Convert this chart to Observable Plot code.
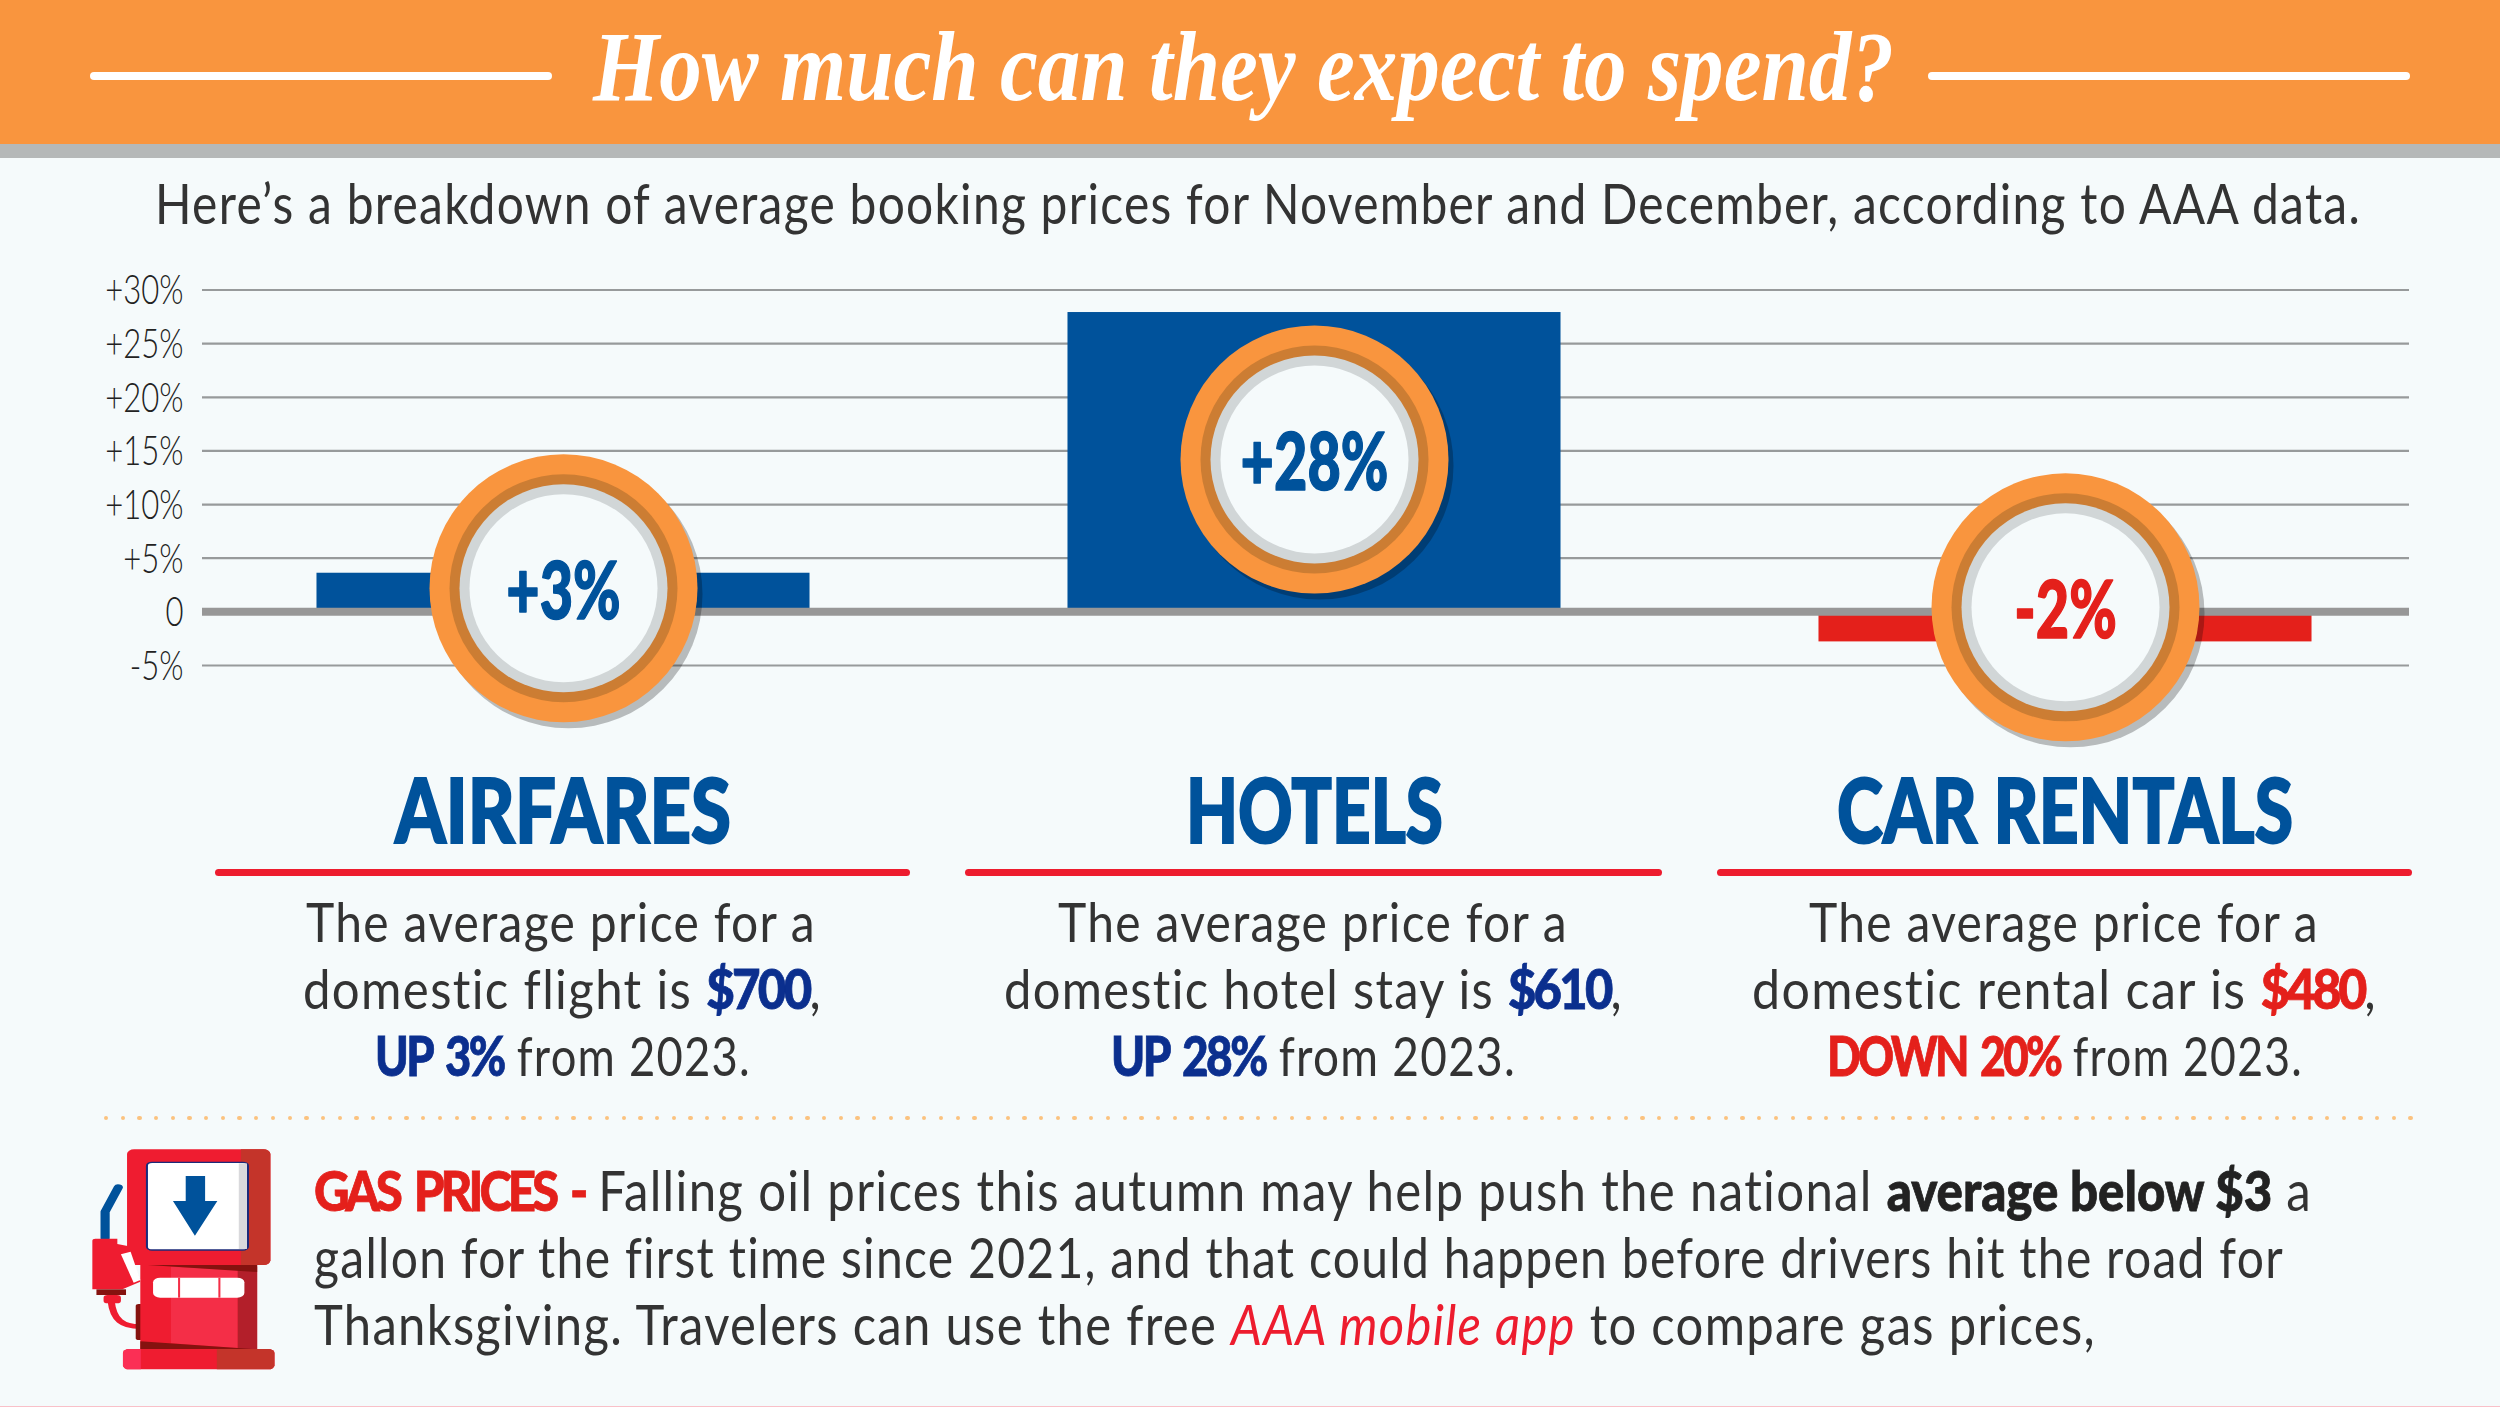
<!DOCTYPE html>
<html><head><meta charset="utf-8">
<script src="https://cdn.jsdelivr.net/npm/d3@7"></script>
<script src="https://cdn.jsdelivr.net/npm/@observablehq/plot@0.6"></script>
<style>
html,body{margin:0;padding:0;background:#F5FAFB;}
#page{position:relative;width:2500px;height:1407px;overflow:hidden;background:#F5FAFB;font-family:Lato,sans-serif;color:#333;}
.abs{position:absolute;}
.ln{position:absolute;white-space:nowrap;transform-origin:0 0;line-height:1.2;}
.b{letter-spacing:1.5px}
.n{color:#0B2F8E;font-weight:900;letter-spacing:-3px;word-spacing:7px;-webkit-text-stroke:.8px #0B2F8E}
.r{color:#E4201B;font-weight:900;letter-spacing:-3.5px;word-spacing:7px;-webkit-text-stroke:.8px #E4201B}
.k{color:#222;font-weight:900;letter-spacing:0;-webkit-text-stroke:.8px #222}
.i{color:#ED1C2E;font-style:italic}
#chart{position:absolute;left:0;top:250px;}
#chart svg{overflow:visible;background:transparent;}
</style></head><body><div id="page"></div>
<script>
const categories=["AIRFARES","HOTELS","CAR RENTALS"];
const barValues=[3.6,27.9,-2.8];
const badgeLabels=["+3%","+28%","-2%"];
const badgeLevels=[2.2,14.2,0.42];
const barColors=["#00529B","#00529B","#E4201B"];
const labelColors=["#00529B","#00529B","#E4201B"];
const yTicks=[30,25,20,15,10,5,-5];
const yTickLabels=["+30%","+25%","+20%","+15%","+10%","+5%","-5%"];

const rows=categories.map((c,i)=>({c,v:barValues[i],b:badgeLevels[i],t:badgeLabels[i],f:barColors[i],lc:labelColors[i]}));
const page=document.getElementById("page");

function box(l,t,w,h,bg,extra){const d=document.createElement("div");d.className="abs";d.style.cssText=`left:${l}px;top:${t}px;width:${w}px;height:${h}px;background:${bg};${extra||""}`;page.appendChild(d);return d;}
function line(html,left,right,baseline,size,opts={}){
  const d=document.createElement("div");d.className="ln"+(opts.cls?" "+opts.cls:"");d.innerHTML=html;
  d.style.fontSize=size+"px";d.style.left=left+"px";d.style.top="0px";
  if(opts.family)d.style.fontFamily=opts.family;
  if(opts.weight)d.style.fontWeight=opts.weight;
  if(opts.style)d.style.fontStyle=opts.style;
  if(opts.color)d.style.color=opts.color;
  if(opts.stroke)d.style.webkitTextStroke=opts.stroke;
  page.appendChild(d);
  const p=document.createElement("span");p.style.cssText="display:inline-block;width:0;height:0;vertical-align:baseline";
  d.appendChild(p);const off=p.getBoundingClientRect().bottom-d.getBoundingClientRect().top;d.removeChild(p);
  d.style.top=(baseline-off)+"px";
  const w=d.getBoundingClientRect().width;
  d.style.transform=`scaleX(${(right-left)/w})`;
  return d;
}

// header
box(0,0,2500,144,"#F9953E");
box(0,144,2500,14,"#B5B8B8");
box(90,72,462,8,"#FFF","border-radius:4px");
box(1928,72,482,8,"#FFF","border-radius:4px");
line("How much can they expect to spend?",593,1894,100,100,{family:"'Liberation Serif',serif",weight:700,style:"italic",color:"#FFF"});
line("Here’s a breakdown of average booking prices for November and December, according to AAA data.",155,2361,224,56,{cls:"b"});

// chart
const chart=Plot.plot({
  width:2500,height:500,marginLeft:202,marginRight:91,marginTop:39.5,marginBottom:85,
  style:{background:"transparent",overflow:"visible"},
  x:{domain:categories,range:[187.5,2440.5],paddingInner:0.3435,paddingOuter:0.17175,round:false,axis:null},
  y:{domain:[-5,30],axis:null},
  marks:[
    Plot.ruleY(yTicks,{stroke:"#979A9B",strokeWidth:2.2}),
    Plot.axisY({ticks:[...yTicks,0],tickFormat:d=>d===0?"0":yTickLabels[yTicks.indexOf(d)],tickSize:0,tickPadding:19,fontSize:42,fontFamily:"Lato",fontWeight:300,fill:"#222",label:null,dy:1}),
    Plot.barY(rows,{x:"c",y:"v",fill:"f"}),
    Plot.ruleY([0],{stroke:"#979797",strokeWidth:8}),
    Plot.dot(rows,{x:"c",y:"b",r:134,fill:"#000",fillOpacity:0.25,dx:5,dy:6}),
    Plot.dot(rows,{x:"c",y:"b",r:134,fill:"#F9953E"}),
    Plot.dot(rows,{x:"c",y:"b",r:114,fill:"#CC7D33"}),
    Plot.dot(rows,{x:"c",y:"b",r:104,fill:"#D1D6D7"}),
    Plot.dot(rows,{x:"c",y:"b",r:94,fill:"#F5FAFB"}),
    Plot.text(rows,{x:"c",y:"b",text:"t",fill:"lc",stroke:"lc",strokeWidth:1.5,fontSize:80,fontWeight:900,fontFamily:"Lato",lineAnchor:"middle",className:"badge",dy:5})
  ]
});
const holder=document.createElement("div");holder.id="chart";holder.appendChild(chart);page.appendChild(holder);
function squeeze(sel,k){chart.querySelectorAll(sel).forEach(t=>{const l=t.getComputedTextLength();t.setAttribute("textLength",l*k);t.setAttribute("lengthAdjust","spacingAndGlyphs");});}
squeeze("g.badge text",0.72);
squeeze("g[aria-label='y-axis tick label'] text",0.74);

// headings and columns
const headX=[[395,731],[1186,1443],[1837,2293]];
const ruleX=[[215,910],[965,1662],[1717,2412]];
categories.forEach((c,i)=>{
  line(c,headX[i][0],headX[i][1],843,89,{weight:900,color:"#00529B",stroke:"2px #00529B"});
  box(ruleX[i][0],869,ruleX[i][1]-ruleX[i][0],7,"#ED1C2E","border-radius:4px");
});
const bodyLines=[
 ["The average price for a",306,816,0],["domestic flight is <span class=n>$700</span>,",303,822,1],["<span class=n>UP 3%</span> from 2023.",375,751,2],
 ["The average price for a",1058,1568,0],["domestic hotel stay is <span class=n>$610</span>,",1004,1623,1],["<span class=n>UP 28%</span> from 2023.",1111,1516,2],
 ["The average price for a",1809,2319,0],["domestic rental car is <span class=r>$480</span>,",1752,2377,1],["<span class=r>DOWN 20%</span> from 2023.",1827,2303,2]
];
bodyLines.forEach(([h,a,b,n])=>line(h,a,b,942+n*67,55,{cls:"b"}));

// dotted divider
for(let x=106;x<=2412;x+=16.7){box(x-2.2,1115.5,4.4,4.4,"#FBC27F","border-radius:50%");}

// gas text
line('<span class=r style="letter-spacing:-4.5px;word-spacing:8px">GAS PRICES -</span> Falling oil prices this autumn may help push the national <span class=k>average below $3</span> a',314,2312,1211,56,{cls:"b"});
line("gallon for the first time since 2021, and that could happen before drivers hit the road for",314,2284,1278,56,{cls:"b"});
line('Thanksgiving. Travelers can use the free <span class=i>AAA mobile app</span> to compare gas prices,',314,2096,1345,56,{cls:"b"});

// pump icon
const icon=document.createElement("div");icon.className="abs";icon.style.cssText="left:0;top:1100px;width:800px;height:307px";
icon.innerHTML=`<svg width="800" height="307" viewBox="0 0 1568 921" preserveAspectRatio="none" style="display:block">
<path d="M206 415V335L232 262" fill="none" stroke="#00529B" stroke-width="18" stroke-linecap="round" stroke-linejoin="round"/>
<path d="M218 605C222 660 240 680 275 680" fill="none" stroke="#EF1C30" stroke-width="14"/>
<rect x="266" y="612" width="16" height="108" rx="6" fill="#85120F"/>
<rect x="275" y="490" width="229" height="260" fill="#EF1C30"/>
<polygon points="335,500 466,510 466,745 335,730" fill="#F42E47"/>
<polygon points="466,500 504,500 504,750 466,750" fill="#B31F2A"/>
<polygon points="290,495 504,495 504,516" fill="#85120F"/>
<polygon points="275,724 466,744 504,748 275,748" fill="#85120F"/>
<rect x="249" y="148" width="281" height="347" rx="14" fill="#EF1C30"/>
<path d="M472 148H516a14 14 0 0 1 14 14V481a14 14 0 0 1-14 14H472Z" fill="#C4342A"/>
<rect x="288" y="187" width="198" height="263" rx="10" fill="#FFF" stroke="#1B2A7A" stroke-width="4"/>
<rect x="468" y="190" width="16" height="257" fill="#D9D9DC"/>
<polygon points="364,228 402,228 402,303 426,303 382,407 339,303 364,303" fill="#00529B"/>
<rect x="300" y="533" width="179" height="60" rx="14" fill="#FFF"/>
<rect x="349" y="533" width="4" height="60" fill="#F42E47"/><rect x="428" y="533" width="4" height="60" fill="#F42E47"/>
<rect x="241" y="747" width="297" height="61" rx="12" fill="#EF1C30"/>
<path d="M276 747H253a12 12 0 0 0-12 12V796a12 12 0 0 0 12 12H276Z" fill="#FB2F55"/>
<path d="M425 747H526a12 12 0 0 1 12 12V796a12 12 0 0 1-12 12H425Z" fill="#C4342A"/>
<path d="M181 422a6 6 0 0 1 6-6H230V432L250 438L275 545L240 568H181Z" fill="#EF1C30"/>
<polygon points="237,463 256,455 275,540 262,548" fill="#FFF"/>
<rect x="189" y="568" width="58" height="17" fill="#85120F"/>
<rect x="203" y="585" width="34" height="25" rx="8" fill="#EF1C30"/>
</svg>`;
page.appendChild(icon);
box(0,1406,2500,1,"#F9C0C8");
</script></body></html>
